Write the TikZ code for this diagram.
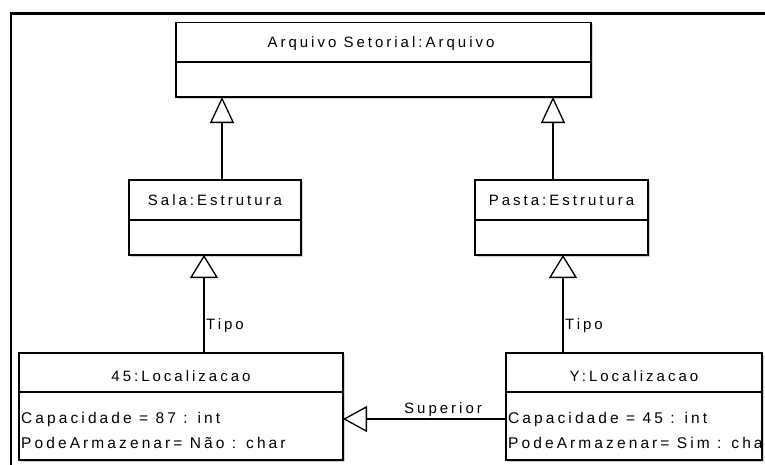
\documentclass[tikz,border=0pt]{standalone}
\usepackage{fontspec}
\setmainfont{Liberation Sans}[LetterSpace=20]
\usetikzlibrary{arrows.meta,shadows}
\begin{document}
\begin{tikzpicture}[x=1pt,y=-1pt,
  umlbox/.style={draw, line width=1.3pt, fill=white, rectangle, inner sep=0pt, outer sep=0pt,
    drop shadow={shadow xshift=1.5pt, shadow yshift=-1.5pt, opacity=0.18, fill=black}},
  divider/.style={line width=1.3pt},
  lbl/.style={inner sep=0pt, font=\fontsize{15pt}{17pt}\selectfont},
  attr/.style={inner sep=0pt, anchor=base west, font=\fontsize{15.5pt}{17pt}\selectfont},
  gen/.style={line width=1.3pt, -{Triangle[open, length=26pt, width=24pt, line width=1.3pt]}},
  genlow/.style={line width=1.3pt, -{Triangle[open, length=23pt, width=28pt, line width=1.3pt]}},
  genside/.style={line width=1.3pt, -{Triangle[open, length=24pt, width=26pt, line width=1.3pt]}},
]
\useasboundingbox (0,0) rectangle (765,464);
\clip (0,0) rectangle (765,464);

% outer frame
\draw[line width=2.7pt] (11,13.8) rectangle (800,500);

% object boxes
\node[umlbox, minimum width=415pt, minimum height=74.3pt] (arq) at (383.5,59.85) {};
\node[umlbox, minimum width=172pt, minimum height=75pt] (sala) at (215,217.5) {};
\node[umlbox, minimum width=173pt, minimum height=75pt] (pasta) at (561.5,217.5) {};
\node[umlbox, minimum width=324pt, minimum height=107pt] (loc45) at (181,406.5) {};
\node[umlbox, minimum width=256pt, minimum height=107pt] (locY) at (634,406.5) {};

% compartment dividers
\draw[divider] (arq.west |- 0,62) -- (arq.east |- 0,62);
\draw[divider] (sala.west |- 0,220) -- (sala.east |- 0,220);
\draw[divider] (pasta.west |- 0,220) -- (pasta.east |- 0,220);
\draw[divider] (loc45.west |- 0,392) -- (loc45.east |- 0,392);
\draw[divider] (locY.west |- 0,392) -- (locY.east |- 0,392);

% titles
\node[lbl, anchor=base] (tArq) at (381,47.5) {Arquivo Setorial:Arquivo};
\node[lbl, anchor=base] (tSala) at (215,205) {Sala:Estrutura};
\node[lbl, anchor=base] (tPasta) at (561.5,205) {Pasta:Estrutura};
\node[lbl, anchor=base] (t45) at (181,381.7) {45:Localizacao};
\node[lbl, anchor=base] (tY) at (634,381.7) {Y:Localizacao};

% attributes
\node[attr] (a45c) at (21,423) {Capacidade = 87 : int};
\node[attr] (a45p) at (21,448.5) {PodeArmazenar= Não : char};
\begin{scope}
  \clip (locY.north west) rectangle (locY.south east);
  \node[attr] (aYc) at (508,423) {Capacidade = 45 : int};
  \node[attr] (aYp) at (508,448.5) {PodeArmazenar= Sim : char};
\end{scope}

% generalizations
\draw[gen] (sala.north -| 222,0) -- (arq.south -| 222,0);
\draw[gen] (pasta.north -| 553,0) -- (arq.south -| 553,0);
\draw[genlow] (loc45.north -| 204,0) -- (sala.south -| 204,0);
\draw[genlow] (locY.north -| 563,0) -- (pasta.south -| 563,0);
\draw[genside] (locY.west |- 0,419) -- (loc45.east |- 0,419);

% connector labels
\node[lbl, anchor=base west] (lTipo1) at (206,329) {Tipo};
\node[lbl, anchor=base west] (lTipo2) at (565,329) {Tipo};
\node[lbl, anchor=base] (lSup) at (443,413) {Superior};
\end{tikzpicture}
\end{document}
